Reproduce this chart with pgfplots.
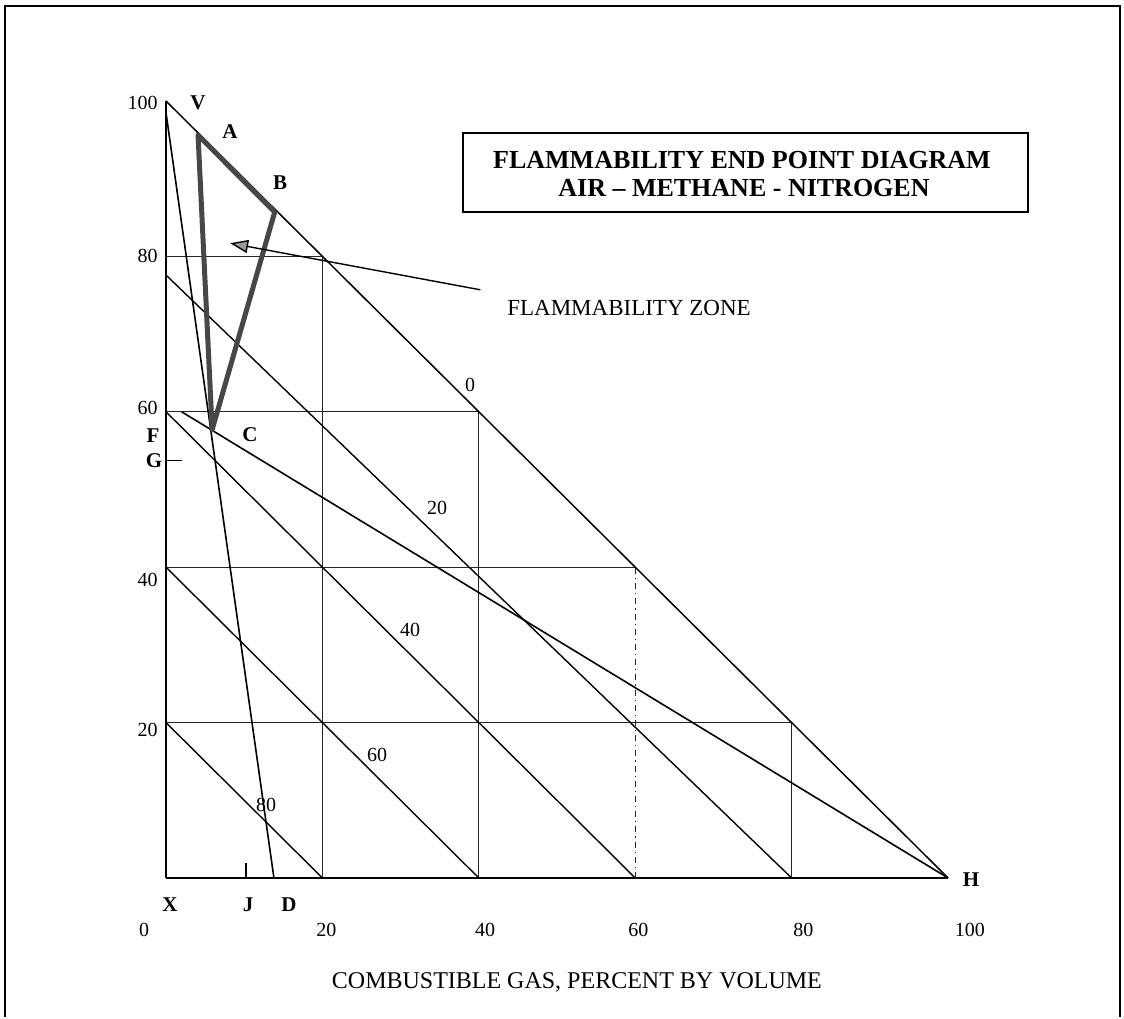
\documentclass[border=0pt]{standalone}
\usepackage{fontspec}
\setmainfont{Liberation Serif}
\usepackage{pgfplots}
\pgfplotsset{compat=1.18}
\usetikzlibrary{arrows.meta}

\begin{document}
\begin{tikzpicture}
\begin{axis}[
  scale only axis,
  width=414.5pt, height=388.5pt,
  xmin=-3, xmax=103, ymin=0, ymax=100,
  axis line style={draw=none},
  major tick length=0pt,
  xtick={-2.8,20.5,40.8,60.4,81.5,102.8},
  xticklabels={0,20,40,60,80,100},
  ytick={19.1,38.3,60.5,80,99.7},
  yticklabels={20,40,60,80,100},
  /pgf/number format/assume math mode=true,
  tick label style={font=\fontsize{10}{12}\selectfont},
  xticklabel style={anchor=center, yshift=-26pt},
  yticklabel style={anchor=east, inner sep=0pt, xshift=7.75pt},
  xlabel={COMBUSTIBLE GAS, PERCENT BY VOLUME},
  xlabel style={at={(axis description cs:0.524,0)}, anchor=center, yshift=-52pt, font=\fontsize{12}{14}\selectfont},
  clip=false,
]
% axes
\addplot[black, line width=1pt] coordinates {(0,0) (100,0)};
\addplot[black, line width=0.9pt] coordinates {(0,0) (0,100)};
% grid segments
\addplot[black!85, line width=0.6pt] coordinates {(0,80) (20,80)};
\addplot[black!85, line width=0.6pt] coordinates {(0,60) (40,60)};
\addplot[black!85, line width=0.6pt] coordinates {(0,40) (60,40)};
\addplot[black!85, line width=0.6pt] coordinates {(0,20) (80,20)};
\addplot[black!85, line width=0.6pt] coordinates {(20,0) (20,80)};
\addplot[black!85, line width=0.6pt] coordinates {(40,0) (40,60)};
\addplot[black!85, line width=0.6pt, dash dot] coordinates {(60,0) (60,40)};
\addplot[black!85, line width=0.6pt] coordinates {(80,0) (80,20)};
% inert (nitrogen) lines
\addplot[black, line width=0.75pt] coordinates {(0,100) (100,0)};
\addplot[black, line width=0.7pt] coordinates {(0,77.6) (80,0)};
\addplot[black, line width=0.7pt] coordinates {(0,60) (60,0)};
\addplot[black, line width=0.7pt] coordinates {(0,40) (40,0)};
\addplot[black, line width=0.7pt] coordinates {(0,20) (20,0)};
% D line and F-H line
\addplot[black, line width=0.8pt] coordinates {(0,98.5) (13.8,0)};
\addplot[black, line width=0.8pt] coordinates {(2,60) (100,0)};
% G and J ticks
\addplot[black, line width=0.7pt] coordinates {(0,53.7) (2,53.7)};
\addplot[black, line width=0.8pt] coordinates {(10.2,0) (10.2,1.9)};
% flammability zone
\addplot[black!72, line width=2.5pt, line join=round, line cap=round] coordinates {(4.1,95.6) (13.9,85.7) (5.9,57.7) (4.1,95.6)};
% arrow
\addplot[black, line width=0.7pt, -{Triangle[length=9pt,width=6.5pt,fill=black!40]}] coordinates {(40.2,75.7) (8.2,81.7)};
\coordinate (O) at (axis cs:0,0);
\end{axis}
\begin{scope}[shift={(O)}]
\begin{scope}[x=0.5pt,y=-0.5pt,shift={(-166,-878)}]
\path (0,0) rectangle (1124,1017);
\draw[line width=1pt] (5,1017) -- (5,6) -- (1120,6) -- (1120,1017);
\draw[line width=0.7pt] (463,133) rectangle (1028,212);
\node[font=\fontsize{13}{15}\selectfont\bfseries] at (742,160) {FLAMMABILITY END POINT DIAGRAM};
\node[font=\fontsize{13}{15}\selectfont\bfseries] at (744,188) {AIR – METHANE - NITROGEN};
\node[font=\fontsize{11.5}{13}\selectfont] at (629,308) {FLAMMABILITY ZONE};
\begin{scope}[every node/.style={font=\fontsize{10.5}{12}\selectfont\bfseries, inner sep=0pt}]
\node at (198,103) {V};
\node at (230,132) {A};
\node at (280,183) {B};
\node at (250,435) {C};
\node at (153,436) {F};
\node at (154,461) {G};
\node at (170,905) {X};
\node at (248,905) {J};
\node at (289,905) {D};
\node at (971,880) {H};
\end{scope}
\begin{scope}[every node/.style={font=\fontsize{10}{12}\selectfont, inner sep=0pt}]
\node at (470,385) {0};
\node at (437,508) {20};
\node at (410,630) {40};
\node at (377,755) {60};
\node at (266,805) {80};
\end{scope}
\end{scope}
\end{scope}
\end{tikzpicture}
\end{document}
